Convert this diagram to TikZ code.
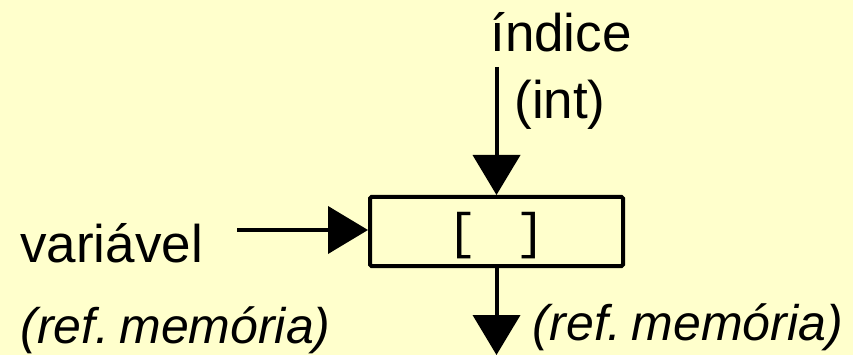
\documentclass[tikz,border=0pt]{standalone}
\usepackage{fontspec}
\setmainfont{Liberation Sans}
\setmonofont{Liberation Mono}
\usetikzlibrary{arrows.meta}
\definecolor{paper}{HTML}{FFFFCC}
\tikzset{
  lbl/.style={inner sep=0pt, anchor=base, font=\fontsize{53}{60}\selectfont},
  ilbl/.style={lbl, font=\fontsize{50}{58}\selectfont\itshape},
  opbox/.style={draw, line width=4pt, rounded corners=1.5pt, minimum width=253pt,
    minimum height=69pt, inner sep=0pt},
  flow/.style={line width=4pt, -{Triangle[length=40pt, width=47pt]}}
}
\begin{document}
\begin{tikzpicture}[x=1pt, y=-1pt]
  \fill[paper] (0,0) rectangle (853,355);
  \useasboundingbox (0,0) rectangle (853,355);

  % indexing operator box
  \node[opbox] (box) at (496.5,231.5) {};
  \node[inner sep=0pt, anchor=base, font=\fontsize{50}{56}\selectfont\ttfamily]
    (brk) at (496.5,248) {[\hspace{38pt}]};

  % index input from above
  \node[lbl] (idx) at (561,52) {índice};
  \node[lbl] (idxt) at (560,119) {(int)};
  \coordinate (idxin) at (496.5,67);
  \draw[flow] (idxin) -- (box.north);

  % variable input from the left
  \node[lbl, anchor=base west] (var) at (20,262) {variável};
  \node[ilbl] (varref) at (175.5,343) {(ref.\hspace{10pt}memória)};
  \coordinate (varin) at (237,230);
  \draw[flow] (varin) -- (varin -| box.west);

  % result going down
  \coordinate (resout) at (496.5,355);
  \draw[flow] (box.south) -- (resout);
  \node[ilbl] (resref) at (688,340) {(ref.\hspace{10pt}memória)};
\end{tikzpicture}
\end{document}
